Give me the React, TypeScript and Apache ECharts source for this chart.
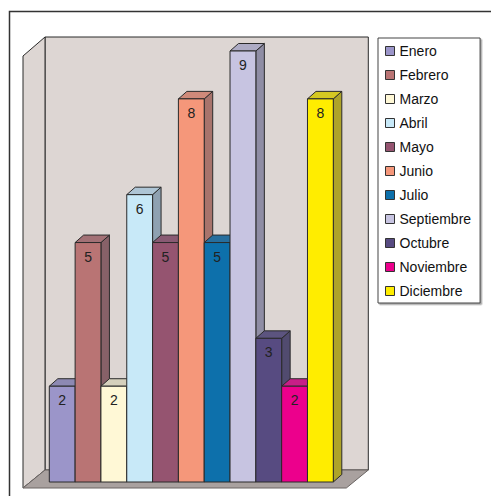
import React, { useEffect, useRef } from "react";
import * as echarts from "echarts";

const months = ["Enero", "Febrero", "Marzo", "Abril", "Mayo", "Junio", "Julio", "Septiembre", "Octubre", "Noviembre", "Diciembre"];
const values = [2, 5, 2, 6, 5, 8, 5, 9, 3, 2, 8];
const colors = ["#9b95c9", "#b97474", "#fff8d6", "#c8e9f8", "#955470", "#f5977a", "#0d70ab", "#c7c4e1", "#574b81", "#ec008c", "#ffed00"];
const yMin = 0;
const yMax = 9;

const FONT = '"Liberation Sans", Arial, sans-serif';
const EDGE = "#2a2a2a";
const DX = 8.5;
const DY = -7.5;

function hex(c: string) {
  const n = parseInt(c.slice(1), 16);
  return [(n >> 16) & 255, (n >> 8) & 255, n & 255];
}
function mix(a: string, b: string, t: number) {
  const A = hex(a), B = hex(b);
  const r = A.map((v, k) => Math.round(v * (1 - t) + B[k] * t));
  return "rgb(" + r.join(",") + ")";
}

export default function App() {
  const ref = useRef<HTMLDivElement>(null);
  useEffect(() => {
    const chart = echarts.init(ref.current!, null, { renderer: "svg" });

    const barSeries = months.map((m, i) => ({
      type: "custom",
      name: m,
      z: 3,
      itemStyle: { color: colors[i] },
      data: [[i, values[i]]],
      renderItem: (params: any, api: any) => {
        const idx = api.value(0);
        const v = api.value(1);
        const top = api.coord([idx, v]);
        const base = api.coord([idx, 0]);
        const w = api.size([1, 0])[0];
        const x0 = top[0] - w / 2;
        const x1 = top[0] + w / 2;
        const y0 = top[1];
        const yb = base[1];
        const side = mix(colors[i], "#4a4a5a", 0.45);
        const topc = mix(colors[i], "#6a6a7a", 0.28);
        return {
          type: "group",
          children: [
            {
              type: "polygon",
              shape: { points: [[x1, y0], [x1 + DX, y0 + DY], [x1 + DX, yb + DY], [x1, yb]] },
              style: { fill: side, stroke: EDGE, lineWidth: 1 },
            },
            {
              type: "polygon",
              shape: { points: [[x0, y0], [x0 + DX, y0 + DY], [x1 + DX, y0 + DY], [x1, y0]] },
              style: { fill: topc, stroke: EDGE, lineWidth: 1 },
            },
            {
              type: "rect",
              shape: { x: x0, y: y0, width: w, height: yb - y0 },
              style: { fill: colors[i], stroke: EDGE, lineWidth: 1 },
            },
            {
              type: "text",
              style: {
                text: String(v),
                x: top[0],
                y: y0 + 14,
                align: "center",
                verticalAlign: "middle",
                fill: "#222",
                font: "14px " + FONT,
              },
            },
          ],
        };
      },
    }));

    const frameSeries = {
      type: "custom",
      name: "frame",
      z: 1,
      silent: true,
      data: [[0, 0]],
      renderItem: (params: any) => {
        const cs = params.coordSys;
        const L = cs.x, T = cs.y, R = cs.x + cs.width, B = cs.y + cs.height;
        const bl = L - 4.3, br = R + 35, bt = T - 14, bb = B - 12;
        const fl = L - 26.3, fb = B + 6, fr = R + 13, ft = T + 5;
        return {
          type: "group",
          children: [
            {
              type: "polygon",
              shape: { points: [[bl, bt], [br, bt], [br, bb], [bl, bb]] },
              style: { fill: "#ddd6d3", stroke: EDGE, lineWidth: 1 },
            },
            {
              type: "polygon",
              shape: { points: [[fl, ft], [bl, bt], [bl, bb], [fl, fb]] },
              style: { fill: "#ddd6d3", stroke: EDGE, lineWidth: 1 },
            },
            {
              type: "polygon",
              shape: { points: [[fl, fb], [bl, bb], [br, bb], [fr, fb]] },
              style: { fill: "#a9a19f", stroke: "#6a6462", lineWidth: 1 },
            },
          ],
        };
      },
    };

    chart.setOption({
      animation: false,
      backgroundColor: "#ffffff",
      grid: { left: 49.3, top: 51, width: 284, height: 431, show: false },
      xAxis: { type: "category", data: months, show: false },
      yAxis: { type: "value", min: yMin, max: yMax, show: false },
      legend: {
        data: months,
        orient: "vertical",
        left: 378,
        top: 38,
        icon: "rect",
        itemWidth: 9,
        itemHeight: 9,
        itemGap: 10,
        selectedMode: false,
        padding: [6, 9, 5, 7],
        backgroundColor: "#ffffff",
        borderColor: "#444",
        borderWidth: 1,
        shadowColor: "rgba(0,0,0,0.35)",
        shadowOffsetX: 1.5,
        shadowOffsetY: 1.5,
        shadowBlur: 0,
        itemStyle: { borderColor: "#333", borderWidth: 1 },
        textStyle: { fontFamily: FONT, fontSize: 14, color: "#111" },
      },
      graphic: [
        {
          type: "rect",
          z: 0,
          silent: true,
          shape: { x: 9.5, y: 11.5, width: 600, height: 600 },
          style: { fill: "none", stroke: "#333", lineWidth: 1.5 },
        },
      ],
      series: [frameSeries, ...barSeries],
    });
    return () => chart.dispose();
  }, []);
  return (
    <div
      ref={ref}
      style={{ position: "fixed", left: 0, top: 0, width: 491, height: 496, background: "#fff" }}
    />
  );
}
